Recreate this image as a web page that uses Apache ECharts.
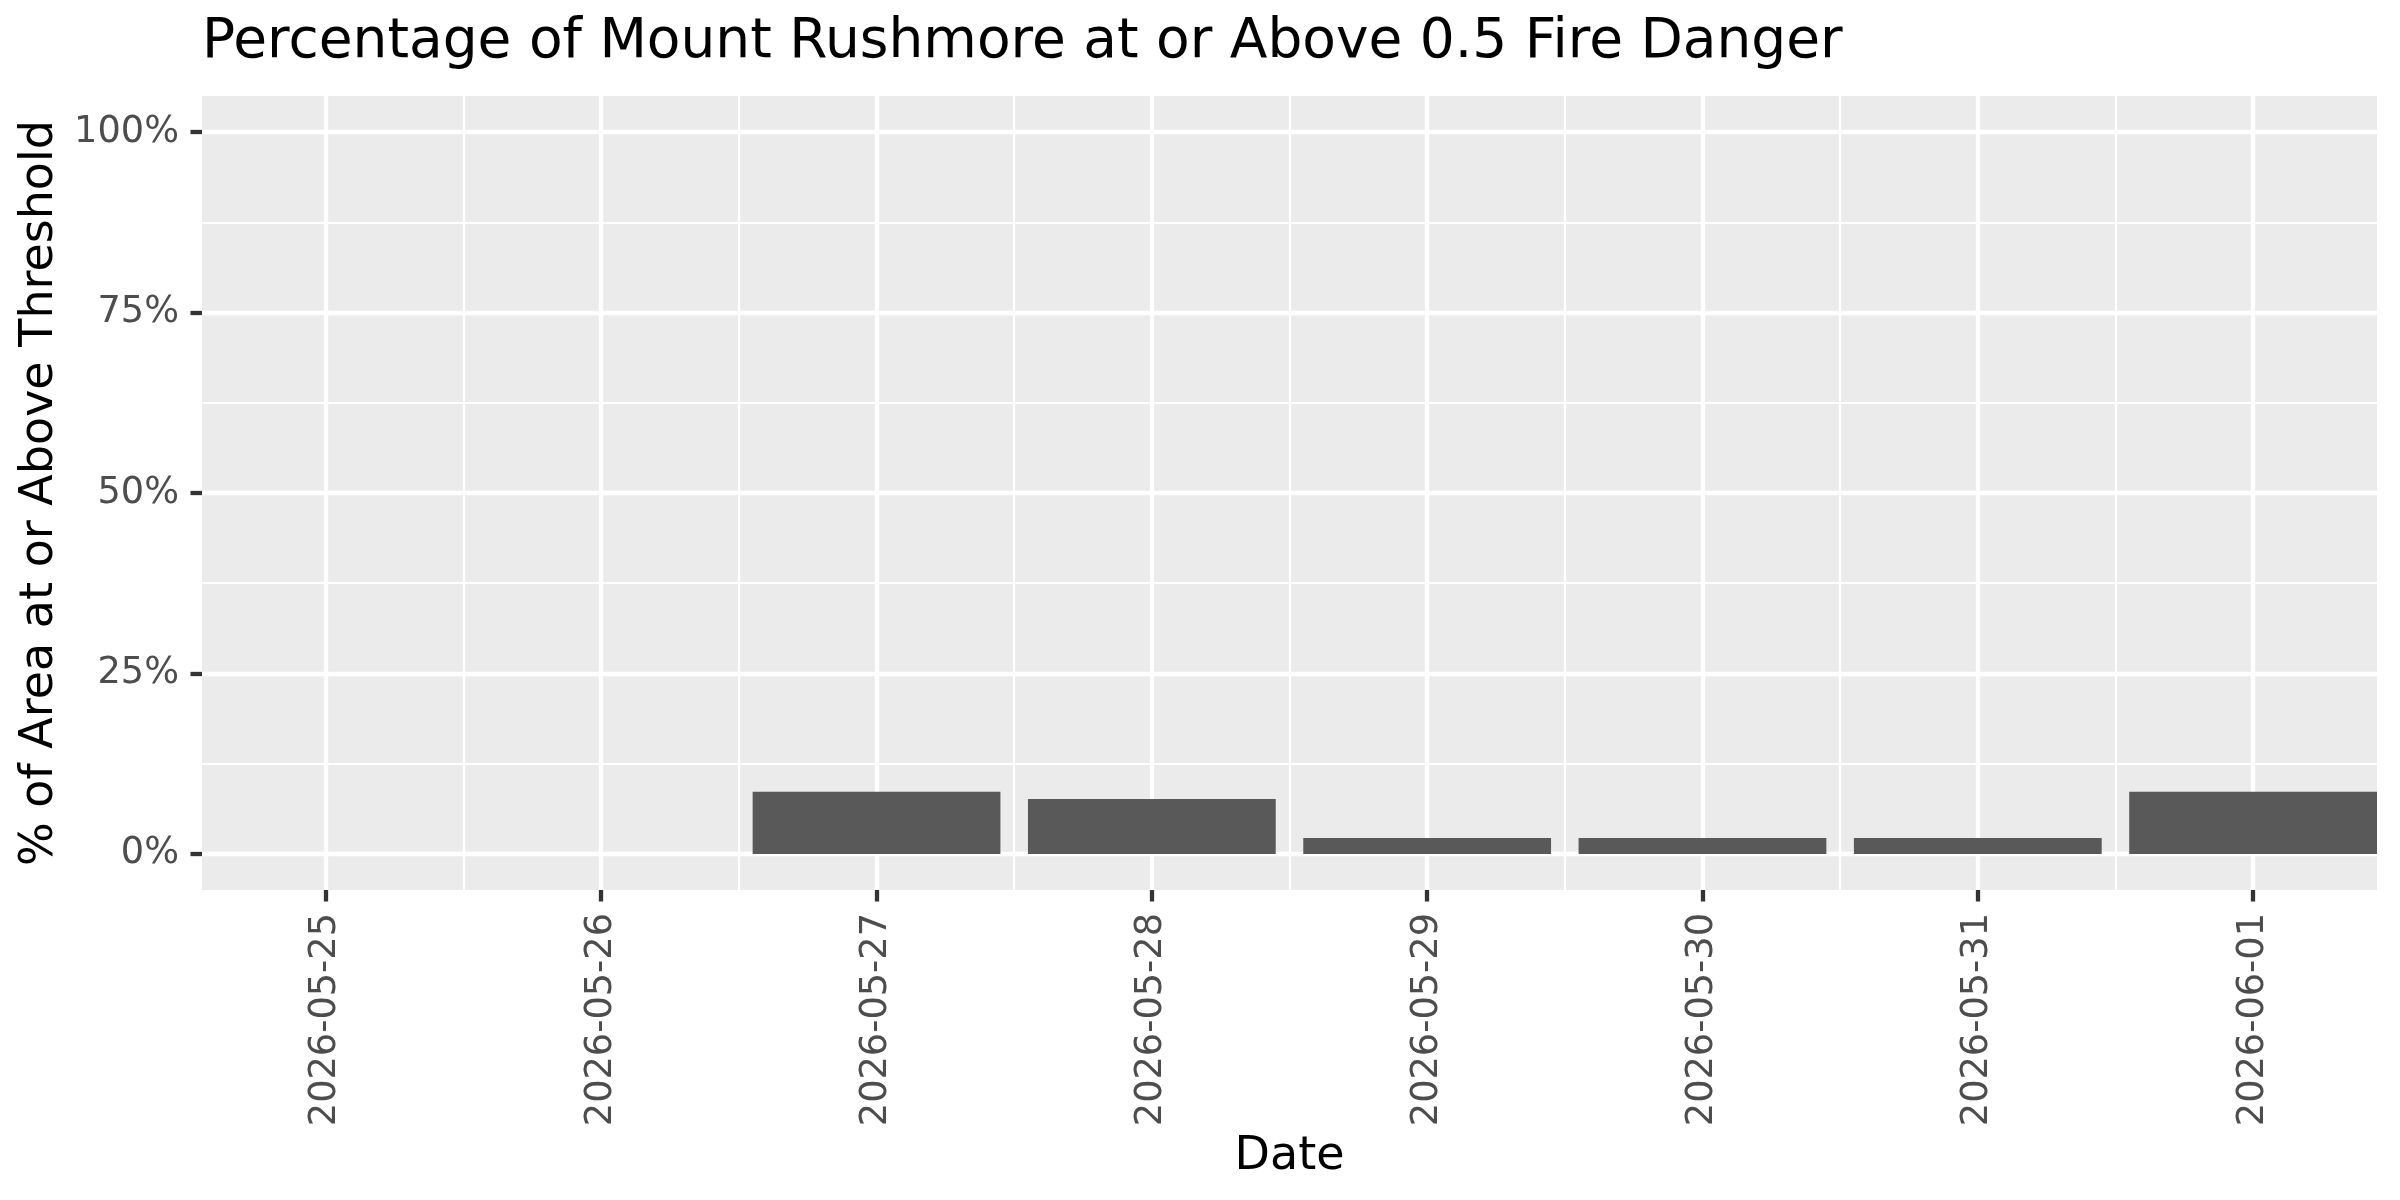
<!DOCTYPE html>
<html>
<head>
<meta charset="utf-8">
<title>Mount Rushmore fire danger</title>
<script src="https://cdn.jsdelivr.net/npm/echarts@6/dist/echarts.min.js"></script>
<style>
  html, body { margin: 0; padding: 0; background: #ffffff; }
  #chart { width: 2400px; height: 1200px; }
</style>
</head>
<body>
<div id="chart"></div>
<script>
// data
const dates = ['2026-05-25', '2026-05-26', '2026-05-27', '2026-05-28',
  '2026-05-29', '2026-05-30', '2026-05-31', '2026-06-01'];
const pctAbove = [0, 0, 8.6, 7.6, 2.2, 2.2, 2.2, 8.6];

const FONT = 'DejaVu Sans';

// panel box (px) and ggplot-like expansion
const panel = { left: 202, right: 23, top: 96, bottom: 310 };
const panelW = 2400 - panel.left - panel.right;
const panelH = 1200 - panel.top - panel.bottom;
const band = panelW / (dates.length - 0.1);   // bars are 0.9 wide, no x expansion
const yPad = panelH * 5 / 110;                // 5% expansion on each side of 0..100

const majorW = 4.3;
const minorW = 2.2;

const chart = echarts.init(document.getElementById('chart'));

const option = {
  animation: false,
  backgroundColor: '#ffffff',
  textStyle: { fontFamily: FONT },
  title: {
    text: 'Percentage of Mount Rushmore at or Above 0.5 Fire Danger',
    left: panel.left,
    top: 15,
    padding: 0,
    textStyle: { fontFamily: FONT, fontSize: 55, fontWeight: 'normal', color: '#000000' }
  },
  grid: [
    // 0: panel background
    { left: panel.left, right: panel.right, top: panel.top, bottom: panel.bottom,
      show: true, backgroundColor: '#EBEBEB', borderWidth: 0 },
    // 1: minor vertical lines (between dates)
    { left: panel.left - 0.05 * band, right: panel.right - 0.05 * band,
      top: panel.top, bottom: panel.bottom },
    // 2: major vertical lines + date axis
    { left: panel.left + 0.45 * band, right: panel.right + 0.45 * band,
      top: panel.top, bottom: panel.bottom },
    // 3: y axis, horizontal lines
    { left: panel.left, right: panel.right, top: panel.top + yPad, bottom: panel.bottom + yPad },
    // 4: bars
    { left: panel.left - 0.05 * band, right: panel.right - 0.05 * band,
      top: panel.top + yPad, bottom: panel.bottom + yPad }
  ],
  xAxis: [
    { gridIndex: 0, type: 'value', show: false, min: 0, max: 1 },
    {
      gridIndex: 1, type: 'value', min: 0, max: dates.length, interval: 1,
      axisLine: { show: false }, axisTick: { show: false }, axisLabel: { show: false },
      splitLine: { show: true, showMinLine: false, showMaxLine: false,
        lineStyle: { color: '#ffffff', width: minorW } }
    },
    {
      gridIndex: 2, type: 'value', min: 0, max: dates.length - 1, interval: 1,
      name: 'Date',
      nameLocation: 'middle',
      nameGap: 238,
      nameTextStyle: { fontFamily: FONT, fontSize: 46, color: '#000000' },
      axisLine: { show: false },
      axisTick: { show: true, length: 11.5, lineStyle: { color: '#333333', width: majorW } },
      axisLabel: {
        show: true, rotate: 90, margin: 23, showMinLabel: true, showMaxLabel: true,
        fontFamily: FONT, fontSize: 36.7, color: '#4D4D4D',
        formatter: function (v) { return dates[v]; }
      },
      splitLine: { show: true, lineStyle: { color: '#ffffff', width: majorW } }
    },
    { gridIndex: 3, type: 'value', show: false, min: 0, max: 1 },
    { gridIndex: 4, type: 'category', data: dates, show: false, boundaryGap: true }
  ],
  yAxis: [
    { gridIndex: 0, type: 'value', show: false, min: 0, max: 1 },
    { gridIndex: 1, type: 'value', show: false, min: 0, max: 1 },
    { gridIndex: 2, type: 'value', show: false, min: 0, max: 1 },
    {
      gridIndex: 3, type: 'value', min: 0, max: 100, interval: 25,
      name: '% of Area at or Above Threshold',
      nameLocation: 'middle',
      nameGap: 125,
      nameTextStyle: { fontFamily: FONT, fontSize: 46, color: '#000000' },
      axisLine: { show: false },
      axisTick: { show: true, length: 11.5, lineStyle: { color: '#333333', width: majorW } },
      axisLabel: {
        margin: 23, fontFamily: FONT, fontSize: 36.7, color: '#4D4D4D',
        formatter: '{value}%'
      },
      splitLine: { show: true, lineStyle: { color: '#ffffff', width: majorW } },
      minorTick: { show: false, splitNumber: 2 },
      minorSplitLine: { show: true, lineStyle: { color: '#ffffff', width: minorW } }
    },
    { gridIndex: 4, type: 'value', show: false, min: 0, max: 100 }
  ],
  series: [
    {
      name: 'pct',
      type: 'bar',
      xAxisIndex: 4,
      yAxisIndex: 4,
      data: pctAbove,
      barWidth: '90%',
      itemStyle: { color: '#595959' },
      z: 5
    }
  ]
};

chart.setOption(option);
</script>
</body>
</html>
